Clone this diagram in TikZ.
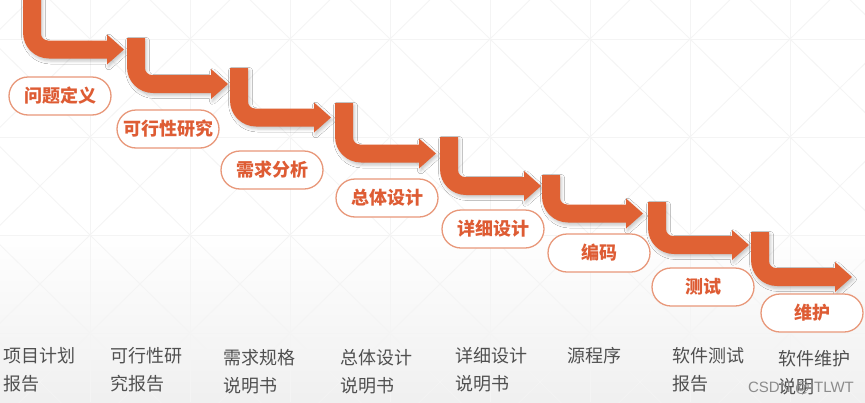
\documentclass[tikz,border=0pt]{standalone}
\usepackage{fontspec}
\newfontfamily\cjk{Noto Sans CJK SC}
\newfontfamily\wmfont{Liberation Sans}
\usetikzlibrary{shadows.blur}
\definecolor{arrowc}{RGB}{224,98,52}
\definecolor{pillline}{RGB}{232,152,122}
\definecolor{pilltext}{RGB}{222,92,52}
\definecolor{doctext}{RGB}{80,80,80}
\definecolor{gridc}{RGB}{244,244,244}
\tikzset{
  pill/.style={draw=pillline, line width=1.3pt, fill=white, rectangle,
    rounded corners=19pt, minimum width=102pt, minimum height=38pt,
    inner sep=0pt, text=pilltext, font=\cjk\bfseries\fontsize{18}{20}\selectfont},
  doc/.style={anchor=base west, inner sep=0pt, align=left, text=doctext,
    font=\cjk\fontsize{18}{28}\selectfont},
  stagearrow/.style={fill=arrowc, blur shadow={shadow xshift=1.5pt,
    shadow yshift=-2.5pt, shadow opacity=22, shadow blur radius=3pt}},
  gridline/.style={draw=gridc, line width=0.8pt}
}
\begin{document}
\begin{tikzpicture}[x=1pt,y=-1pt]
\useasboundingbox (0,0) rectangle (865,402);
% background
\fill[white] (0,0) rectangle (865,402);
\shade[top color=white, bottom color=black!6] (0,230) rectangle (865,402);
\begin{scope}
\clip (0,0) rectangle (865,402);
\foreach \gx in {-10,90,...,890} {
  \draw[gridline] (\gx,0) -- (\gx,402);
}
\foreach \gy in {39,137,235,333} {
  \draw[gridline] (0,\gy) -- (865,\gy);
}
\foreach \gx in {-10,90,...,790} {
  \foreach \gy in {-59,39,137,235,333} {
    \draw[gridline] (\gx,\gy) -- (\gx+100,\gy+98);
    \draw[gridline] (\gx+100,\gy) -- (\gx,\gy+98);
  }
}
\end{scope}
% arrows
\foreach \L/\c/\T in {23/49.5/-5, 127/84/38, 230/117.5/68, 335/153.5/103,
                      440/186/137, 542/213.5/175, 648/245/202, 751/277/232} {
  \pgfmathsetmacro\B{\c+9}
  \pgfmathsetmacro\U{\c-9}
  \pgfmathsetmacro\X{\L+101}
  \pgfmathsetmacro\H{\X-17}
  \pgfmathsetmacro\W{\L+18}
  \fill[stagearrow] (\L,\T) -- (\L,\B-26)
    .. controls (\L,\B-11.6) and (\L+11.6,\B) .. (\L+26,\B)
    -- (\H,\B) -- (\H,\c+15) -- (\X,\c) -- (\H,\c-15) -- (\H,\U)
    -- (\W+7,\U) .. controls (\W+3.1,\U) and (\W,\U-3.1) .. (\W,\U-7)
    -- (\W,\T) -- cycle;
}
% stage pills
\node[pill] (p1) at (60,96)   {问题定义};
\node[pill] (p2) at (168,129) {可行性研究};
\node[pill] (p3) at (272,170) {需求分析};
\node[pill] (p4) at (387,198) {总体设计};
\node[pill] (p5) at (493,229) {详细设计};
\node[pill] (p6) at (599,253) {编码};
\node[pill] (p7) at (703,287) {测试};
\node[pill] (p8) at (812,313) {维护};
% documents (base anchor = baseline of the last line)
\node[doc] (d1) at (3,390)   {项目计划\\报告};
\node[doc] (d2) at (110,390) {可行性研\\究报告};
\node[doc] (d3) at (223,392) {需求规格\\说明书};
\node[doc] (d4) at (340,392) {总体设计\\说明书};
\node[doc] (d5) at (455,390) {详细设计\\说明书};
\node[doc] (d6) at (567,362) {源程序};
\node[doc] (d7) at (672,390) {软件测试\\报告};
\node[doc] (d8) at (778,393) {软件维护\\说明};
% watermark
\node[text=black!45, font=\wmfont\fontsize{15}{18}\selectfont, inner sep=0pt] (wm) at (801,388) {CSDN @ITLWT};
\end{tikzpicture}
\end{document}
